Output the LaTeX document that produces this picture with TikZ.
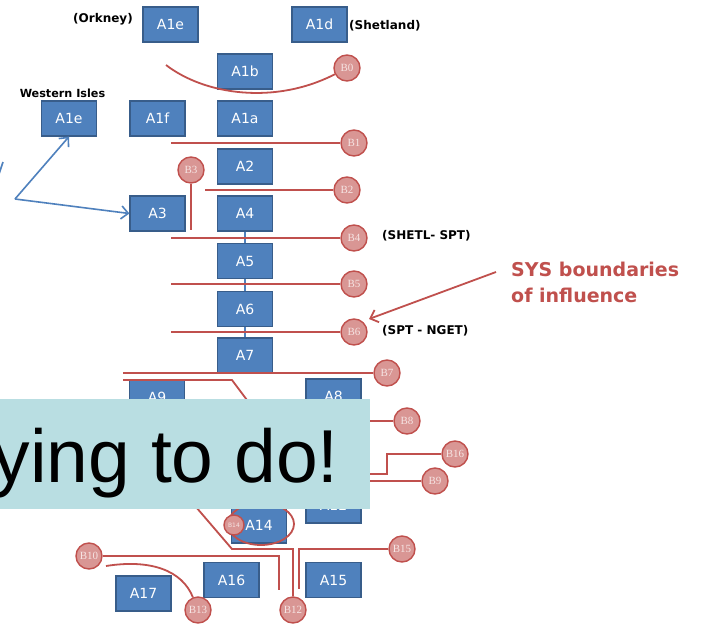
\documentclass[tikz,border=0pt]{standalone}
\usepackage{fontspec}
\setmainfont{DejaVu Sans}
\newfontfamily\serifface{Liberation Serif}
\newfontfamily\bannerface{Liberation Sans}
\usetikzlibrary{arrows.meta}
\pgfdeclarelayer{wires}
\pgfdeclarelayer{discs}
\pgfdeclarelayer{cover}
\pgfsetlayers{main,wires,discs,cover}
\definecolor{boxfill}{HTML}{4F81BD}
\definecolor{boxedge}{HTML}{385D8A}
\definecolor{redline}{HTML}{C0504D}
\definecolor{bubfill}{HTML}{D99694}
\definecolor{bubtext}{HTML}{F6E4E3}
\definecolor{banner}{RGB}{185,222,226}
\begin{document}
\begin{tikzpicture}[x=1pt,y=-1pt,
  zone/.style={draw=boxedge, fill=boxfill, line width=1.2pt, minimum width=55pt,
    minimum height=35pt, inner sep=0pt, text=white, font=\fontsize{14}{16}\selectfont},
  bub/.style={circle, draw=redline, fill=bubfill, line width=1.4pt, minimum size=26pt,
    inner sep=0pt, text=bubtext, font=\serifface\fontsize{11}{12}\selectfont},
  smallbub/.style={bub, minimum size=20pt, font=\fontsize{6}{7}\selectfont},
  place/.style={font=\bfseries\fontsize{12}{14}\selectfont, inner sep=0pt},
  bound/.style={draw=redline, line width=1.8pt},
  feed/.style={draw=boxfill, line width=1.8pt},
  barb/.style={-{Straight Barb[length=7pt,width=13pt]}}]
\useasboundingbox (0,0) rectangle (712,629);
\clip (0,0) rectangle (712,629);
\fill[white] (0,0) rectangle (712,629);

% zones
\node[zone] (a1eo) at (170.5,24.5) {A1e};
\node[zone] (a1d)  at (319.5,24.5) {A1d};
\node[zone] (a1b)  at (245,71.5)   {A1b};
\node[zone] (a1a)  at (245,118.5)  {A1a};
\node[zone] (a1f)  at (157.5,118.5){A1f};
\node[zone] (a1ew) at (69,118.5)   {A1e};
\node[zone] (a2)   at (245,166.5)  {A2};
\node[zone] (a3)   at (157.5,213.5){A3};
\node[zone] (a4)   at (245,213.5)  {A4};
\node[zone] (a5)   at (245,261)    {A5};
\node[zone] (a6)   at (245,309)    {A6};
\node[zone] (a7)   at (245,355.5)  {A7};
\node[zone] (a9)   at (157,397.5)  {A9};
\node[zone] (a8)   at (333.5,396.5){A8};
\node[zone] (a12)  at (333.5,505.5){A12};
\node[zone] (a14)  at (259,525.5)  {A14};
\node[zone] (a16)  at (231.5,580)  {A16};
\node[zone] (a15)  at (333.5,580)  {A15};
\node[zone] (a17)  at (143.5,593.5){A17};

% place names
\node[place, anchor=east] (ork) at (133,19) {(Orkney)};
\node[place, anchor=west] (shet) at (349,26) {(Shetland)};
\node[place, font=\bfseries\fontsize{11.2}{13}\selectfont] (wisl) at (62.5,93) {Western Isles};
\node[place, anchor=west] (shspt) at (382,236) {(SHETL- SPT)};
\node[place, anchor=west] (sptng) at (382,331) {(SPT - NGET)};
\node[anchor=west, align=left, inner sep=0pt, text=redline,
  font=\bfseries\fontsize{19}{26}\selectfont] (sys) at (511,282) {SYS boundaries\\of influence};

% links down the main chain
\draw[feed] (a4.south) -- (a5.north);
\draw[feed] (a5.south) -- (a6.north);
\draw[feed] (a6.south) -- (a7.north);

% island feeders
\coordinate (hub) at (15,199);
\coordinate (stubA) at (-1,174);
\coordinate (stubB) at (3,162);
\draw[feed, line width=1.6pt, barb] (hub) -- (a1ew.south);
\draw[feed, line width=1.6pt, barb] (hub) -- (a3.west);
\draw[feed, line width=1.6pt] (stubA) -- (stubB);

% boundary markers
\begin{pgfonlayer}{discs}
\node[bub] (b0)  at (347,68)  {B0};
\node[bub] (b1)  at (354,143) {B1};
\node[bub] (b2)  at (347,190) {B2};
\node[bub] (b3)  at (191,170) {B3};
\node[bub] (b4)  at (354,238) {B4};
\node[bub] (b5)  at (354,284) {B5};
\node[bub] (b6)  at (354,332) {B6};
\node[bub] (b7)  at (387,373) {B7};
\node[bub] (b8)  at (407,421) {B8};
\node[bub] (b16) at (455,454) {B16};
\node[bub] (b9)  at (435,481) {B9};
\node[bub] (b15) at (402,549) {B15};
\node[bub] (b10) at (89,556)  {B10};
\node[bub] (b13) at (198,610) {B13};
\node[bub] (b12) at (293,610) {B12};
\node[smallbub] (b14) at (234,525) {B14};
\end{pgfonlayer}

% boundary lines
\coordinate (s0) at (166,65);
\coordinate (s1) at (171,143);
\coordinate (s2) at (205,190);
\coordinate (e3) at (191,230);
\coordinate (s4) at (171,238);
\coordinate (s5) at (171,284);
\coordinate (s6) at (171,332);
\coordinate (s7) at (123,373);
\coordinate (s11) at (123,380);
\coordinate (s8) at (340,421);
\coordinate (s16) at (340,474);
\coordinate (s9) at (340,481);
\coordinate (e10) at (279,590);
\coordinate (e15) at (299,589);
\coordinate (s13) at (106,566);
\begin{pgfonlayer}{wires}
\draw[bound] (s0) .. controls (205,95) and (275,105) .. (b0);
\draw[bound] (s1) -- (b1);
\draw[bound] (s2) -- (b2);
\draw[bound] (b3) -- (e3);
\draw[bound] (s4) -- (b4);
\draw[bound] (s5) -- (b5);
\draw[bound] (s6) -- (b6);
\draw[bound] (s7) -- (b7);
\draw[bound] (s11) -- (232,380) -- (250,404) -- (190,500) -- (232,549) -- (293,549) -- (b12);
\draw[bound] (s8) -- (b8);
\draw[bound] (s16) -- (387,474) -- (387,454) -- (b16);
\draw[bound] (s9) -- (b9);
\draw[bound] (b10) -- (279,556) -- (e10);
\draw[bound] (b15) -- (299,549) -- (e15);
\draw[bound] (s13) .. controls (150,559) and (182,570) .. (b13);
\draw[bound] (a14.center) ++(2pt,1.5pt) ellipse [x radius=33pt, y radius=21pt];

% pointer to the boundaries
\coordinate (sysTail) at (496,272);
\coordinate (sysHead) at (369,319);
\draw[bound, barb] (sysTail) -- (sysHead);
\end{pgfonlayer}

% caption strip laid across the lower part
\begin{pgfonlayer}{cover}
\fill[banner] (-5,399) rectangle (370,509);
\node[anchor=base east, inner sep=0pt, font=\bannerface\fontsize{75}{80}\selectfont] (cap) at (339,482) {ying to do!};
\end{pgfonlayer}
\end{tikzpicture}
\end{document}
